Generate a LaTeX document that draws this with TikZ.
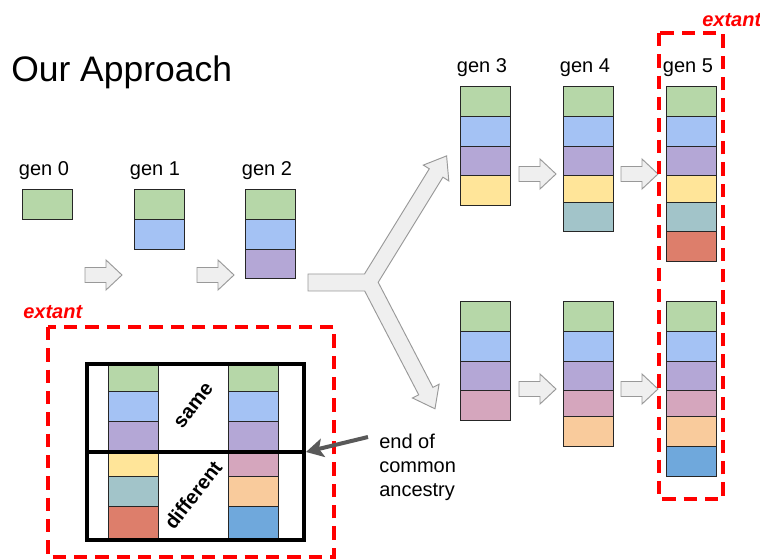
\documentclass[tikz,border=0pt]{standalone}
\usepackage{fontspec}
\setmainfont{Liberation Sans}
\usetikzlibrary{arrows.meta}
\definecolor{cgreen}{HTML}{B6D7A8}
\definecolor{cblue}{HTML}{A4C2F4}
\definecolor{cpurple}{HTML}{B4A7D6}
\definecolor{cyellow}{HTML}{FFE599}
\definecolor{cteal}{HTML}{A2C4C9}
\definecolor{cred}{HTML}{DD7E6B}
\definecolor{cpink}{HTML}{D5A6BD}
\definecolor{corange}{HTML}{F9CB9C}
\definecolor{cdblue}{HTML}{6FA8DC}
\definecolor{afill}{HTML}{EFEFEF}
\definecolor{aline}{HTML}{999999}
\definecolor{ptrgray}{HTML}{595959}
\newcommand{\genstack}[2]{\foreach \ya/\yb/\cc in {#2}{\path[cell, fill=\cc] (#1,\ya) rectangle (#1+50,\yb);}}
\tikzset{
  cell/.style={draw=black!85, line width=0.7pt},
  lbl/.style={font=\fontsize{15}{18}\selectfont, anchor=base, inner sep=0},
  blk/.style={draw=aline, fill=afill, line width=0.7pt, line join=miter},
  extantbox/.style={draw=red, line width=2.4pt, dash pattern=on 10pt off 6pt},
  extantlbl/.style={text=red, font=\fontsize{15}{18}\selectfont\bfseries\itshape, anchor=base west, inner sep=0},
  rotlbl/.style={font=\fontsize{15}{18}\selectfont\bfseries, rotate=52, inner sep=0},
  ptr/.style={draw=ptrgray, line width=3pt, -{Stealth[length=13pt,width=14pt,inset=3pt]}},
  garrow/.pic={\path[blk] (0,-7.5) -- (21,-7.5) -- (21,-15) -- (37,0) -- (21,15) -- (21,7.5) -- (0,7.5) -- cycle;},
}
\begin{document}
\begin{tikzpicture}[x=0.75pt,y=-0.75pt]
\useasboundingbox[fill=white] (0,0) rectangle (760,559);

% title
\node[anchor=base west, inner sep=0, font=\fontsize{26.6}{32}\selectfont] (title) at (11,82) {Our Approach};

% generation labels
\node[lbl] (l0) at (44,176) {gen 0};
\node[lbl] (l1) at (155,176) {gen 1};
\node[lbl] (l2) at (267,176) {gen 2};
\node[lbl] (l3) at (482,73) {gen 3};
\node[lbl] (l4) at (585,73) {gen 4};
\node[lbl] (l5) at (688,73) {gen 5};

% stacks
\genstack{22}{189/219/cgreen}
\genstack{134}{189/219/cgreen, 219/249/cblue}
\genstack{245}{189/219/cgreen, 219/249/cblue, 249/278/cpurple}
\genstack{460}{86/116/cgreen, 116/146/cblue, 146/175/cpurple, 175/205/cyellow}
\genstack{563}{86/116/cgreen, 116/146/cblue, 146/175/cpurple, 175/202/cyellow, 202/231/cteal}
\genstack{666}{86/116/cgreen, 116/146/cblue, 146/175/cpurple, 175/202/cyellow, 202/231/cteal, 231/261/cred}
\genstack{460}{301/331/cgreen, 331/361/cblue, 361/390/cpurple, 390/420/cpink}
\genstack{563}{301/331/cgreen, 331/361/cblue, 361/390/cpurple, 390/416/cpink, 416/446/corange}
\genstack{666}{301/331/cgreen, 331/361/cblue, 361/390/cpurple, 390/416/cpink, 416/446/corange, 446/476/cdblue}

% block arrows
\pic at (85,275) {garrow};
\pic at (197,275) {garrow};
\pic at (519,174) {garrow};
\pic at (621,174) {garrow};
\pic at (519,389) {garrow};
\pic at (621,389) {garrow};

% forked arrow
\path[blk] (308,274) -- (364.5,274) -- (429.3,168.8) -- (423.3,165.1) -- (446.6,155.9)
  -- (448.8,180.9) -- (442.9,177.2) -- (378.2,282.3) -- (432.9,387.4) -- (439.1,384.2)
  -- (435.0,408.8) -- (412.5,398.0) -- (418.7,394.8) -- (364.7,291) -- (308,291) -- cycle;

% extant boxes
\path[extantbox] (659,33) rectangle (723,499);
\node[extantlbl] (ex1) at (702,27) {extant};
\path[extantbox] (48,327) rectangle (334,557);
\node[extantlbl] (ex2) at (23,319) {extant};

% comparison frame
\genstack{108}{362/391/cgreen, 391/421/cblue, 421/451/cpurple, 451/476/cyellow, 476/506/cteal, 506/538/cred}
\genstack{228}{362/391/cgreen, 391/421/cblue, 421/451/cpurple, 451/476/cpink, 476/506/corange, 506/538/cdblue}
\node[draw, line width=3pt, inner sep=0, minimum width=162.75pt, minimum height=132pt, anchor=north west] (frame) at (85,362) {};
\draw[line width=3pt] (frame.west) -- (frame.east);
\node[rotlbl] (same) at (194,406) {same};
\node[rotlbl] (diff) at (193,495) {different};

% annotation
\node[anchor=north west, align=left, inner sep=0, font=\fontsize{15}{18}\selectfont] (eca) at (379,433.5) {end of\\common\\ancestry};
\coordinate (ptrstart) at (368,437);
\draw[ptr] (ptrstart) -- (frame.east);
\end{tikzpicture}
\end{document}
